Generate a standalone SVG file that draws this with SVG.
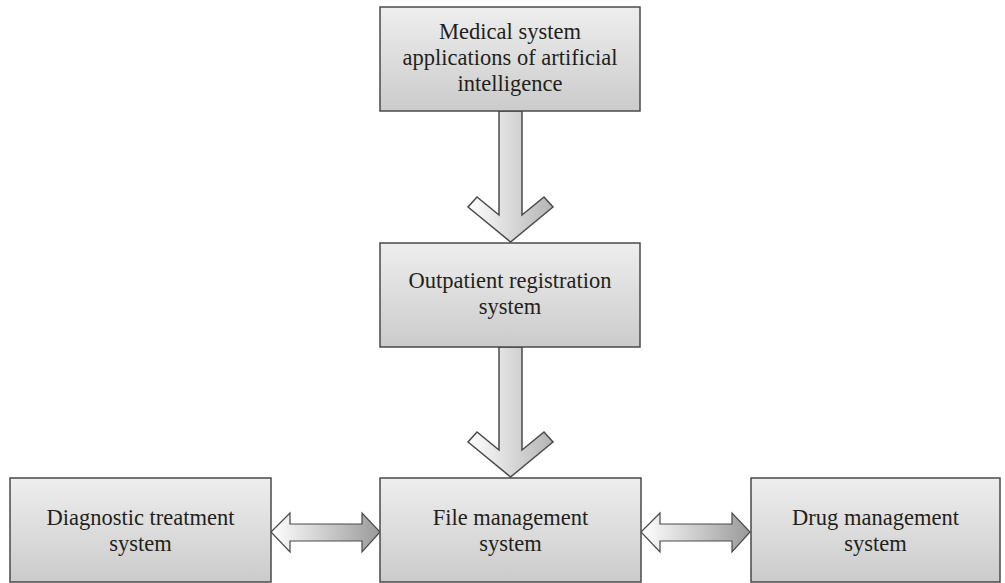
<svg xmlns="http://www.w3.org/2000/svg" width="1005" height="583" viewBox="0 0 1005 583">
  <defs>
    <linearGradient id="boxFill" x1="0" y1="0" x2="0" y2="1">
      <stop offset="0" stop-color="#eeeeee"/>
      <stop offset="1" stop-color="#cbcbcb"/>
    </linearGradient>
    <linearGradient id="vArrowFill" gradientUnits="objectBoundingBox" x1="0" y1="0" x2="1" y2="0">
      <stop offset="0" stop-color="#ffffff"/>
      <stop offset="1" stop-color="#b4b4b4"/>
    </linearGradient>
    <linearGradient id="hArrowFill" gradientUnits="objectBoundingBox" x1="0" y1="0" x2="1" y2="0">
      <stop offset="0" stop-color="#ffffff"/>
      <stop offset="1" stop-color="#9a9a9a"/>
    </linearGradient>
  </defs>
  <style>
    .box { fill: url(#boxFill); stroke: #4a4a4a; stroke-width: 1.5; }
    .label { font-family: "Liberation Serif", "DejaVu Serif", serif; font-size: 22.5px; fill: #231f1a; text-anchor: middle; }
    .varrow { fill: url(#vArrowFill); stroke: #4a4a4a; stroke-width: 1.5; stroke-linejoin: miter; }
    .harrow { fill: url(#hArrowFill); stroke: #4a4a4a; stroke-width: 1.2; stroke-linejoin: miter; }
  </style>
  <rect width="1005" height="583" fill="#ffffff"/>

  <g id="connectors">
    <path class="varrow" d="M499,111 L522,111 L522,215 L544,197 L553,207 L510.5,242 L468,207 L477,197 L499,215 Z"/>
    <path class="varrow" d="M499,347 L522,347 L522,450 L544,432 L553,442 L510.5,477 L468,442 L477,432 L499,450 Z"/>
    <path class="harrow" d="M271,532 L290,513 L290,524 L362,524 L362,513 L380,532 L362,552 L362,541 L290,541 L290,552 Z"/>
    <path class="harrow" d="M641,532 L660,513 L660,524 L732,524 L732,513 L750,532 L732,552 L732,541 L660,541 L660,552 Z"/>
  </g>

  <g id="node-ai">
    <rect class="box" x="380" y="7" width="260" height="104"/>
    <text class="label" x="510" y="39">Medical system</text>
    <text class="label" x="510" y="65">applications of artificial</text>
    <text class="label" x="510" y="91">intelligence</text>
  </g>

  <g id="node-outpatient">
    <rect class="box" x="380" y="243" width="260" height="104"/>
    <text class="label" x="510" y="288">Outpatient registration</text>
    <text class="label" x="510" y="314">system</text>
  </g>

  <g id="node-diagnostic">
    <rect class="box" x="10" y="478" width="261" height="104"/>
    <text class="label" x="140.5" y="525">Diagnostic treatment</text>
    <text class="label" x="140.5" y="551">system</text>
  </g>

  <g id="node-file">
    <rect class="box" x="380" y="478" width="261" height="104"/>
    <text class="label" x="510.5" y="525">File management</text>
    <text class="label" x="510.5" y="551">system</text>
  </g>

  <g id="node-drug">
    <rect class="box" x="751" y="478" width="249" height="104"/>
    <text class="label" x="875.5" y="525">Drug management</text>
    <text class="label" x="875.5" y="551">system</text>
  </g>
</svg>
